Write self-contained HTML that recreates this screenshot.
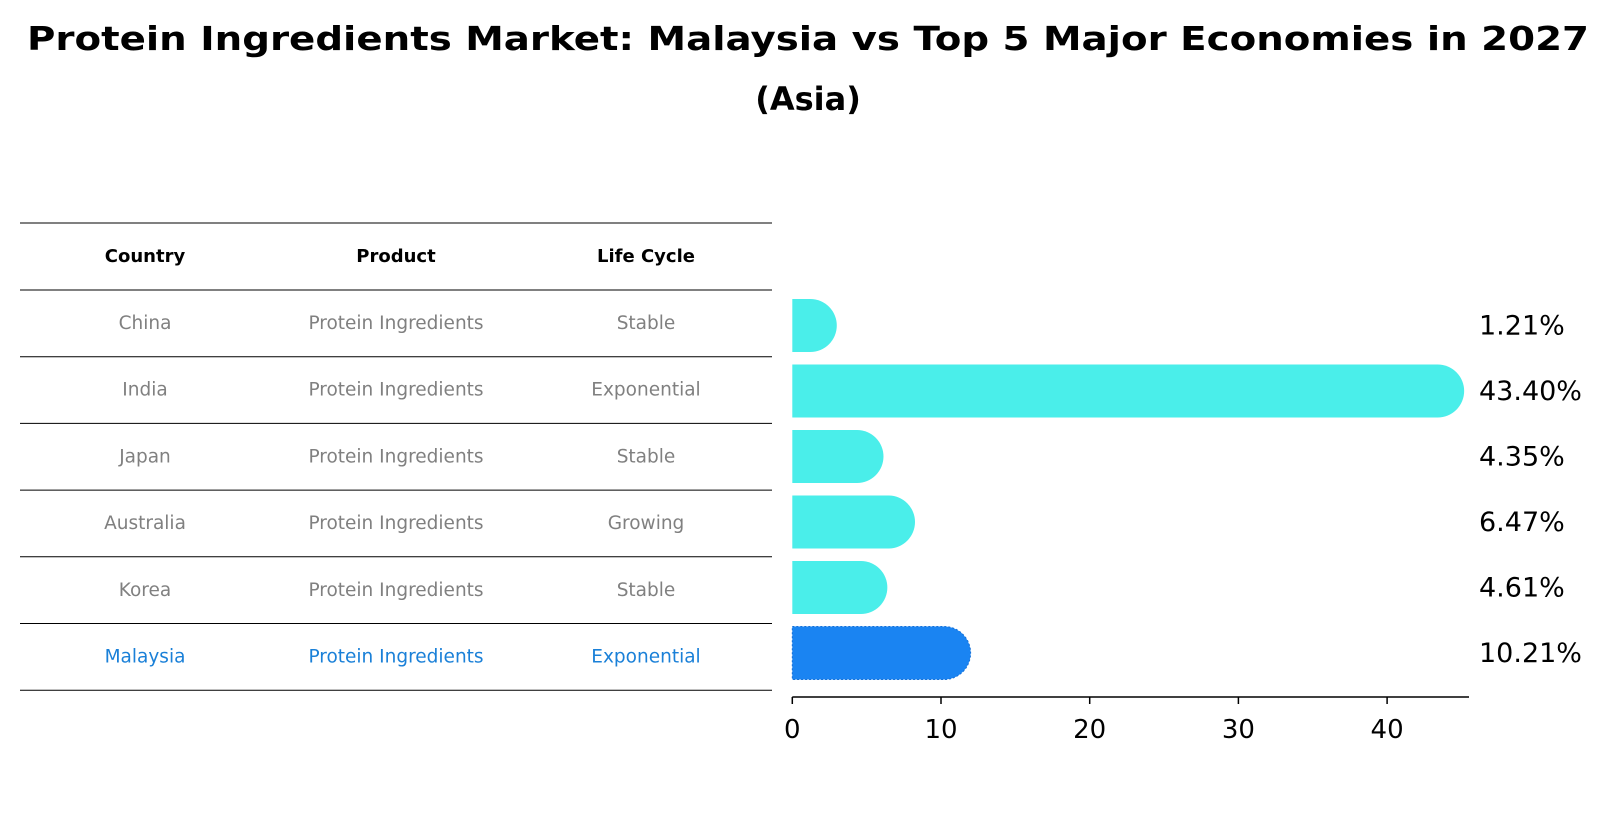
<!DOCTYPE html>
<html><head><meta charset="utf-8"><style>
html,body{margin:0;padding:0;background:#fff;}
svg{display:block;font-family:"DejaVu Sans","Liberation Sans",sans-serif;}
</style></head><body>
<svg id="c" width="1610" height="823" viewBox="0 0 1610 823">
<text x="808" y="50" text-anchor="middle" font-size="33" font-weight="bold" textLength="1562" lengthAdjust="spacingAndGlyphs">Protein Ingredients Market: Malaysia vs Top 5 Major Economies in 2027</text>
<text x="808" y="110" text-anchor="middle" font-size="32" font-weight="bold">(Asia)</text>
<g id="tbl"></g>
<g id="bars"></g>
</svg>
<script>
const countries=["China","India","Japan","Australia","Korea","Malaysia"];
const products=["Protein Ingredients","Protein Ingredients","Protein Ingredients","Protein Ingredients","Protein Ingredients","Protein Ingredients"];
const cycles=["Stable","Exponential","Stable","Growing","Stable","Exponential"];
const values=[1.21,43.40,4.35,6.47,4.61,10.21];
const ticks=[0,10,20,30,40];
const NS="http://www.w3.org/2000/svg";
function mk(t,a,p){const e=document.createElementNS(NS,t);for(const k in a)e.setAttribute(k,a[k]);p.appendChild(e);return e;}
const x0=792.3,ppu=14.87;
const xs=v=>x0+v*ppu;
const rowY=i=>325.5+i*65.5;
const bh=53;
const tbl=document.getElementById('tbl'),bars=document.getElementById('bars');
const lineYs=[223,290];
for(let i=0;i<countries.length;i++)lineYs.push(290+(i+1)*66.7);
lineYs.forEach(y=>{const l=mk('line',{x1:20,x2:772,y1:y,y2:y,stroke:'#000','stroke-width':1},tbl);

});
const cx=[145,396,646];
["Country","Product","Life Cycle"].forEach((h,j)=>{const t=mk('text',{x:cx[j],y:262,'text-anchor':'middle','font-size':18,'font-weight':'bold'},tbl);t.textContent=h;

});
countries.forEach((c,i)=>{const y=323+i*66.7+6;const col=i===countries.length-1?'#1a80d8':'#808080';
[c,products[i],cycles[i]].forEach((s,j)=>{const t=mk('text',{x:cx[j],y:y,'text-anchor':'middle','font-size':18.5,fill:col},tbl);t.textContent=s;

});});
values.forEach((v,i)=>{const cy=rowY(i),r=bh/2,x1=xs(v);const isM=i===values.length-1;
const d=`M${x0},${cy-r} L${x1},${cy-r} A${r},${r} 0 0 1 ${x1},${cy+r} L${x0},${cy+r} Z`;
const p=mk('path',{d:d,fill:isM?'#1a84f2':'#4aeeea'},bars);
if(isM){p.setAttribute('stroke','#1570d8');p.setAttribute('stroke-dasharray','2 2');p.setAttribute('stroke-width','1');}


const t=mk('text',{x:1479,y:cy+9,'font-size':27},bars);t.textContent=v.toFixed(2)+'%';

});
const ax=mk('line',{x1:x0,x2:1469,y1:697,y2:697,stroke:'#000','stroke-width':1.5},bars);


ticks.forEach(v=>{const tl=mk('line',{x1:xs(v),x2:xs(v),y1:697,y2:704,stroke:'#000','stroke-width':1.5},bars);


const t=mk('text',{x:xs(v),y:738,'text-anchor':'middle','font-size':26},bars);t.textContent=v;

});
</script>
</body></html>
